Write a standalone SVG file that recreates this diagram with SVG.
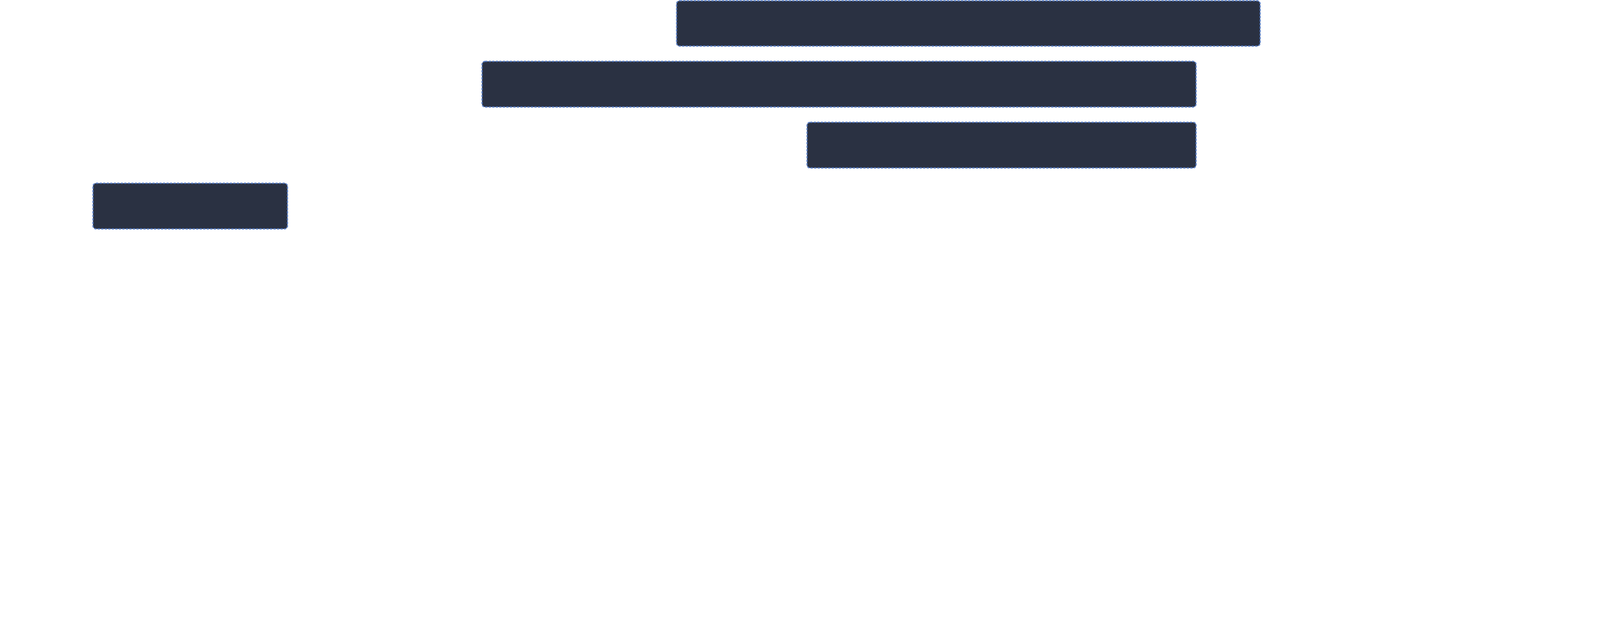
<svg xmlns="http://www.w3.org/2000/svg" width="4128" height="1587" viewBox="0 0 4128 1587">
<style>
.bar{fill:#2a3142;stroke:#5b80c6;stroke-width:3;stroke-dasharray:6 3}
</style>
<rect width="4128" height="1587" fill="#ffffff"/>
<g id="connectors"></g>
<g id="task1"><rect class="bar" x="1732" y="2" width="1494" height="116" rx="8" ry="8"/></g>
<g id="task2"><rect class="bar" x="1234" y="157" width="1828" height="117" rx="8" ry="8"/></g>
<g id="task3"><rect class="bar" x="2066" y="313" width="996" height="117" rx="8" ry="8"/></g>
<g id="task4"><rect class="bar" x="238" y="469" width="498" height="117" rx="8" ry="8"/></g>
</svg>
